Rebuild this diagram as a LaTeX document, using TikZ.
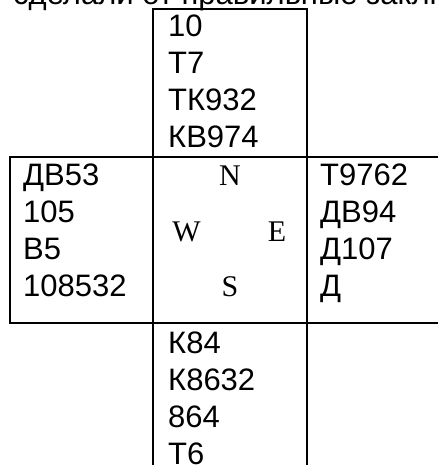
\documentclass[tikz,border=0pt]{standalone}
\usepackage{fontspec}
\setmainfont{Liberation Sans}
\newfontfamily\serifc{Liberation Serif}
\begin{document}
\begin{tikzpicture}[x=1pt,y=-1pt,
  cell/.style={anchor=base west,inner sep=0pt,font=\fontsize{31}{31}\selectfont},
  dir/.style={anchor=base,inner sep=0pt,font=\serifc\fontsize{30}{30}\selectfont},
  grid/.style={line width=2pt}]
\useasboundingbox (0,0) rectangle (438,465);
\clip (0,0) rectangle (438,465);
% cut-off line of text above the table
\node[cell] (cap) at (13,5) {сделали от правильные заключения};
% table lines
\draw[grid] (153,470) -- (153,9) -- (307,9) -- (307,470);
\draw[grid] (445,157) -- (10,157) -- (10,323) -- (445,323);
% top cell
\node[cell] (t1) at (168,37) {10};
\node[cell] (t2) at (168,74) {Т7};
\node[cell] (t3) at (168,111) {ТК932};
\node[cell] (t4) at (168,148) {КВ974};
% left cell
\node[cell] (l1) at (23,185) {ДВ53};
\node[cell] (l2) at (23,222) {105};
\node[cell] (l3) at (23,259) {В5};
\node[cell] (l4) at (23,296) {108532};
% right cell
\node[cell] (r1) at (320,185) {Т9762};
\node[cell] (r2) at (320,222) {ДВ94};
\node[cell] (r3) at (320,259) {Д107};
\node[cell] (r4) at (320,296) {Д};
% compass
\node[dir] (n) at (230,185) {N};
\node[dir] (w) at (186.5,241) {W};
\node[dir] (e) at (277,241) {E};
\node[dir] (s) at (230,296) {S};
% bottom cell
\node[cell] (b1) at (168,353) {К84};
\node[cell] (b2) at (168,390) {К8632};
\node[cell] (b3) at (168,427) {864};
\node[cell] (b4) at (168,464) {Т6};
\end{tikzpicture}
\end{document}
